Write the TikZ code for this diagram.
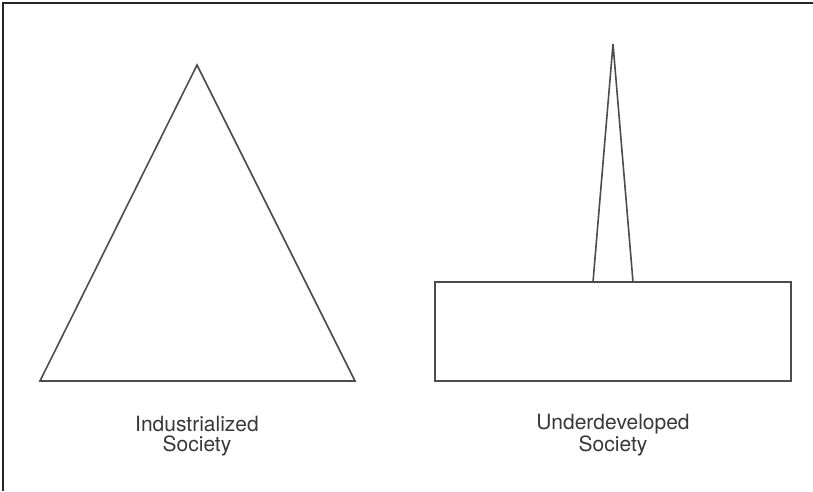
\documentclass[tikz,border=0pt]{standalone}
\usepackage{fontspec}
\setmainfont{TeX Gyre Heros}
\begin{document}
\begin{tikzpicture}[x=1pt,y=1pt,
  shapeline/.style={draw=black!70, line width=1.6pt, line join=miter},
  frameline/.style={draw=black!85, line width=1.4pt},
  caption/.style={align=center, inner sep=0pt, text=black!78,
    font=\fontsize{21}{19.5}\selectfont}]
\useasboundingbox (0,0) rectangle (813,491);
% frame (top and left only)
\coordinate (fTL) at (3,488);
\coordinate (fTR) at (813,488);
\coordinate (fBL) at (3,0);
\draw[frameline] (fBL) -- (fTL) -- (fTR);
% industrialized society: triangle
\coordinate (tA) at (197,426);
\coordinate (tL) at (40,110);
\coordinate (tR) at (355,110);
\draw[shapeline] (tA) -- (tL) -- (tR) -- cycle;
% underdeveloped society: base block and spike
\coordinate (rBL) at (435,110);
\coordinate (rTR) at (791,209);
\draw[shapeline] (rBL) rectangle (rTR);
\coordinate (sA) at (613,447);
\coordinate (sL) at (593,209);
\coordinate (sR) at (633,209);
\draw[shapeline] (sL) -- (sA) -- (sR);
% captions
\node[caption, anchor=base] (capI) at (197,40) {Industrialized\\Society};
\node[caption, anchor=base] (capU) at (613,40) {Underdeveloped\\Society};
\end{tikzpicture}
\end{document}
